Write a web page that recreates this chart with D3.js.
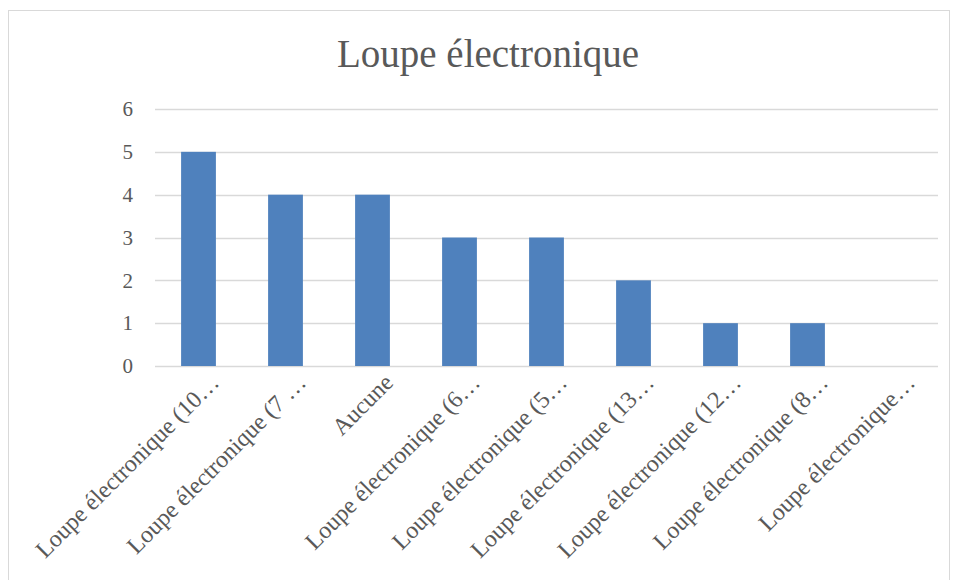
<!DOCTYPE html>
<html>
<head>
<meta charset="utf-8">
<title>Loupe électronique</title>
<script src="https://cdn.jsdelivr.net/npm/d3@7"></script>
<style>
  body { margin: 0; background: #fff; }
  text { font-family: "Liberation Serif", "DejaVu Serif", serif; fill: #595959; }
</style>
</head>
<body>
<script>
var categories = ["Loupe électronique (10…", "Loupe électronique (7 …", "Aucune",
  "Loupe électronique (6…", "Loupe électronique (5…", "Loupe électronique (13…",
  "Loupe électronique (12…", "Loupe électronique (8…", "Loupe électronique…"];
var values = [5, 4, 4, 3, 3, 2, 1, 1, 0];
var yTicks = [0, 1, 2, 3, 4, 5, 6];

var W = 957, H = 580;
var margin = {top: 109, right: 19, bottom: 214, left: 155};
var width = W - margin.left - margin.right,
    height = H - margin.top - margin.bottom;

var svg = d3.select("body").append("svg")
    .attr("width", W).attr("height", H);

// chart frame
svg.append("rect")
    .attr("x", 8.5).attr("y", 10.5)
    .attr("width", 941).attr("height", 600)
    .attr("fill", "none").attr("stroke", "#d9d9d9");

svg.append("text")
    .attr("x", 488).attr("y", 67)
    .attr("text-anchor", "middle")
    .style("font-size", "39px")
    .text("Loupe électronique");

var g = svg.append("g")
    .attr("transform", "translate(" + margin.left + "," + margin.top + ")");

var x = d3.scaleBand().domain(categories).range([0, width]).paddingInner(0.6).paddingOuter(0.3);
var y = d3.scaleLinear().domain([0, 6]).range([height, 0]);

// gridlines
g.selectAll(".grid").data(yTicks).enter().append("line")
    .attr("x1", 0).attr("x2", width)
    .attr("y1", function(d) { return Math.round(y(d)) + 0.5; })
    .attr("y2", function(d) { return Math.round(y(d)) + 0.5; })
    .attr("stroke", "#d9d9d9").attr("stroke-width", 1.5);

g.selectAll(".bar").data(values).enter().append("rect")
    .attr("x", function(d, i) { return x(categories[i]); })
    .attr("y", function(d) { return y(d); })
    .attr("width", x.bandwidth())
    .attr("height", function(d) { return height - y(d); })
    .attr("fill", "#4f81bd");

var yAxis = g.append("g").call(d3.axisLeft(y).tickValues(yTicks).tickFormat(d3.format("d")).tickSize(0).tickPadding(22));
yAxis.select(".domain").remove();
yAxis.selectAll("text").style("font-size", "21px");

var xAxis = g.append("g")
    .attr("transform", "translate(0," + height + ")")
    .call(d3.axisBottom(x).tickSize(0));
xAxis.select(".domain").remove();
xAxis.selectAll("text")
    .style("font-size", "24px")
    .attr("text-anchor", "end")
    .attr("dy", "0.35em")
    .attr("transform", "translate(14,10) rotate(-45)");
</script>
</body>
</html>
